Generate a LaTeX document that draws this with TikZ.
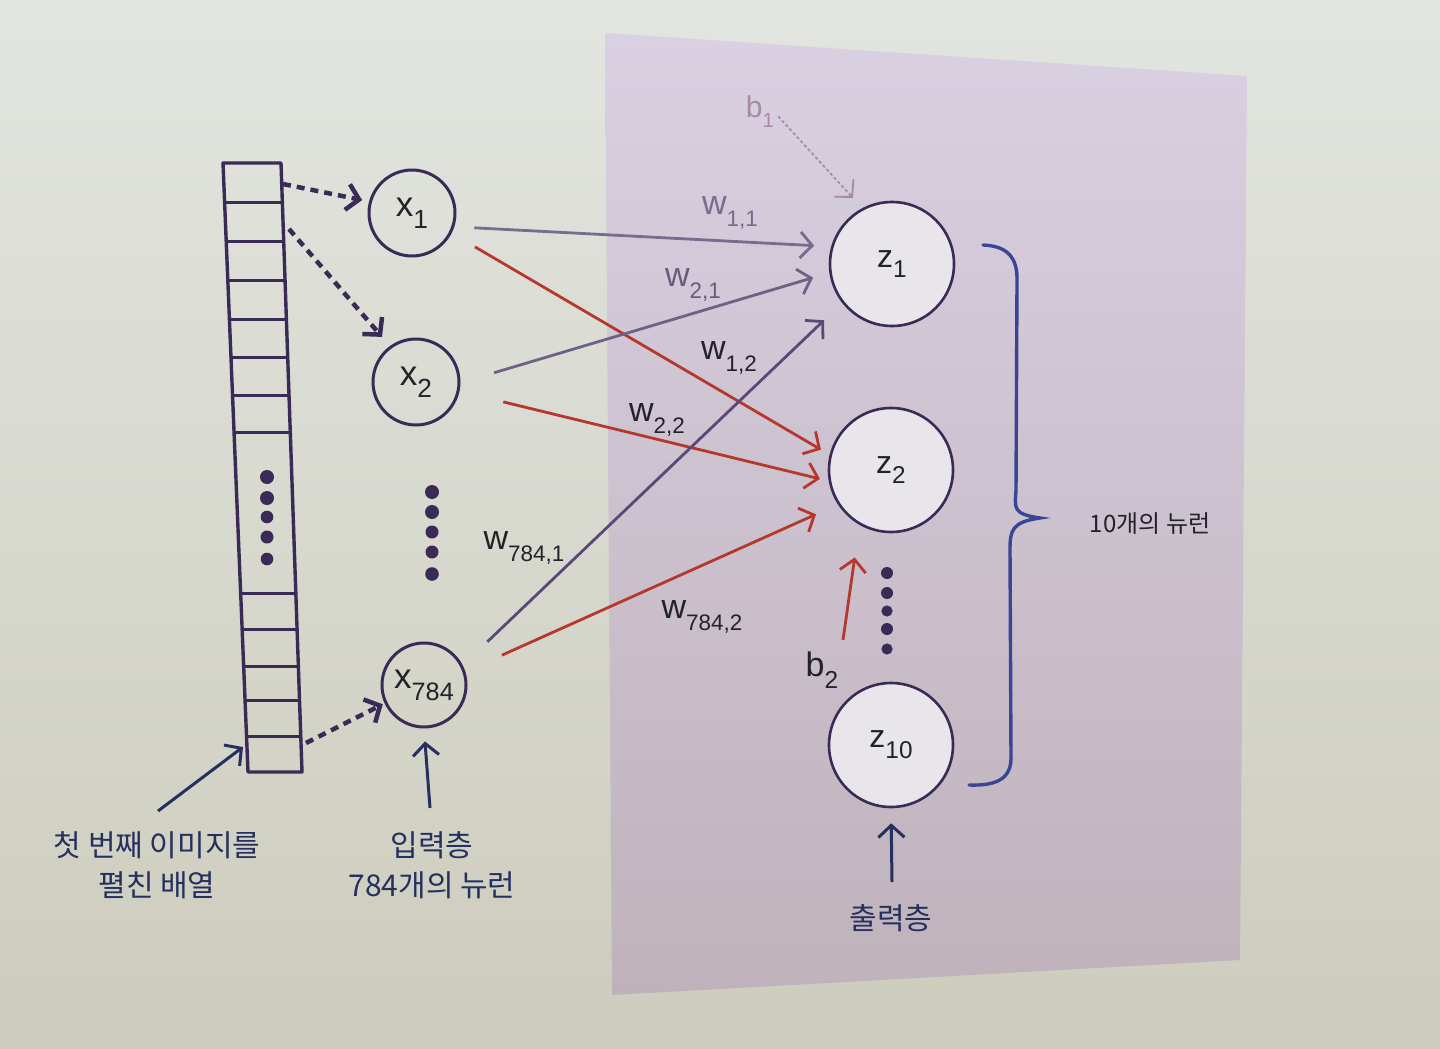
\documentclass[tikz,border=0pt]{standalone}
\usepackage{fontspec}
\setmainfont{Liberation Sans}
\newfontfamily\kr{Noto Sans CJK KR}
\usetikzlibrary{arrows.meta}
\definecolor{bgtop}{HTML}{E2E5E0}
\definecolor{bgbot}{HTML}{CDCCBD}
\definecolor{pptop}{HTML}{D9D0E1}
\definecolor{ppmid}{HTML}{D2C7DC}
\definecolor{ppbot}{HTML}{BFB2BB}
\definecolor{ink}{HTML}{3A2A56}
\definecolor{txt}{HTML}{22222A}
\definecolor{pline}{HTML}{5A4878}
\definecolor{pfade}{HTML}{7A6A8E}
\definecolor{rline}{HTML}{B5382C}
\definecolor{navy}{HTML}{26305E}
\definecolor{bbrace}{HTML}{3A4694}
\definecolor{zfill}{HTML}{E8E5EB}
\definecolor{bfade}{HTML}{A88AA2}
\newcommand\sbs[2][0.75]{\raisebox{-0.34em}{\scalebox{#1}{#2}}}
\tikzset{
  xn/.style={circle, draw=ink, line width=3pt, minimum size=86pt, inner sep=0pt, text=txt,
    font=\fontsize{35}{35}\selectfont},
  zn/.style={circle, draw=ink, line width=2.6pt, fill=zfill, minimum size=124pt, inner sep=0pt, text=txt,
    font=\fontsize{32}{32}\selectfont},
  tip/.style={-{Straight Barb[length=12pt,width=26pt]}},
  parr/.style={tip, line width=2.8pt, draw=pline},
  rarr/.style={tip, line width=2.8pt, draw=rline},
  darr/.style={tip, line width=4.5pt, draw=ink, dash pattern=on 8pt off 6pt},
  narr/.style={tip, line width=3pt, draw=navy},
  wlab/.style={text=txt, font=\fontsize{34}{34}\selectfont, inner sep=0pt},
  krlab/.style={text=navy, font=\kr\fontsize{30}{40}\selectfont, align=center, inner sep=0pt},
  dotc/.style={fill=ink, draw=none}
}
\begin{document}
\begin{tikzpicture}[x=1pt,y=-1pt]
\useasboundingbox (0,0) rectangle (1440,1049);
% background
\shade[top color=bgtop, bottom color=bgbot] (0,0) rectangle (1440,1049);
\shade[top color=pptop, middle color=ppmid, bottom color=ppbot] (605,33) -- (1247,76) -- (1240,960) -- (612,995) -- cycle;

% array (slanted column of cells)
\draw[ink, line width=3.4pt, line join=round] (223,163) -- (281,163) -- (302,772) -- (248,772) -- cycle;
\foreach \yy in {202,241,280,319,357,395,432,593,629,666,700,736}{
  \pgfmathsetmacro\xl{223+(\yy-163)*25/609}
  \pgfmathsetmacro\xr{281+(\yy-163)*21/609}
  \draw[ink, line width=3pt] (\xl,\yy) -- (\xr,\yy);
}
\foreach \yy/\rr in {477/7,498/7,517/6.3,537/6.5,559/6.3}{
  \fill[dotc] (267,\yy) circle[radius=\rr];
}
\coordinate (a1) at (283,184);
\coordinate (a2) at (289,229);
\coordinate (a3) at (306,743);
\coordinate (abl) at (243,747);

% input neurons
\node[xn] (x1) at (412,213) {x\sbs{1}};
\node[xn] (x2) at (416,382) {x\sbs{2}};
\node[xn, minimum size=84pt] (x784) at (424,685) {x\sbs[0.72]{784}};
\foreach \yy/\rr in {492/7,512/7,532/6.5,552/6.5,574/6.8}{
  \fill[dotc] (432,\yy) circle[radius=\rr];
}

% output neurons
\node[zn] (z1) at (892,264) {z\sbs[0.76]{1}};
\node[zn] (z2) at (891,470) {z\sbs[0.76]{2}};
\node[zn] (z10) at (891,745) {z\sbs[0.76]{10}};
\foreach \yy/\rr in {573/6,593/6,611/5.6,629/6,649/5.6}{
  \fill[dotc] (887,\yy) circle[radius=\rr];
}

% dashed arrows from the array
\draw[darr, shorten >=7pt] (a1) -- (x1.165);
\draw[darr, shorten >=12pt] (a2) -- (x2.126);
\draw[darr, shorten >=2pt] (a3) -- (x784.205);

% weights
\draw[parr, draw=pfade, shorten <=20pt, shorten >=17pt] (x1.-18) -- (z1.164);
\draw[rarr, shorten <=27pt, shorten >=10pt] (x1.-27) -- (z2.166);
\draw[parr, draw=pfade!85!ink, shorten <=35pt, shorten >=17pt] (x2.-1) -- (z1.-172);
\draw[rarr, shorten <=45pt, shorten >=9pt] (x2.-12) -- (z2.-170);
\draw[parr, shorten <=34pt, shorten >=25pt] (x784.27) -- (z1.218);
\draw[rarr, shorten <=40pt, shorten >=24pt] (x784.18) -- (z2.213);

\node[wlab, text=pfade] (w11) at (730,213) {w\sbs[0.66]{1,1}};
\node[wlab, text=pfade!80!txt] (w21) at (693,285) {w\sbs[0.66]{2,1}};
\node[wlab] (w12) at (729,358) {w\sbs[0.66]{1,2}};
\node[wlab] (w22) at (657,420) {w\sbs[0.66]{2,2}};
\node[wlab] (w7841) at (524,548) {w\sbs[0.66]{784,1}};
\node[wlab] (w7842) at (702,617) {w\sbs[0.66]{784,2}};

% biases
\node[wlab, text=bfade, font=\fontsize{30}{30}\selectfont] (b1) at (760,112) {b\sbs[0.68]{1}};
\draw[tip, draw=bfade, line width=1.8pt, dash pattern=on 3pt off 2.5pt, shorten <=6pt, shorten >=14pt] (b1.east) -- (z1.118);
\node[wlab, font=\fontsize{34}{34}\selectfont] (b2) at (822,670) {b\sbs[0.72]{2}};
\coordinate (b2tail) at (843,640);
\draw[rarr, shorten >=33pt] (b2tail) -- (z2.-120);

% brace
\draw[bbrace, line width=3.4pt, line cap=round]
  (983,245) .. controls (1006,246) and (1018,256) .. (1017,282)
  -- (1016,490) .. controls (1015,508) and (1012,514) .. (1040,518)
  .. controls (1012,522) and (1010,530) .. (1010,550)
  -- (1011,758) .. controls (1011,779) and (996,786) .. (969,785);
\node[krlab, font=\kr\fontsize{24}{28}\selectfont, text=txt] (ten) at (1150,524) {10개의 뉴런};

% bottom labels
\node[krlab] (lblA) at (157,865) {첫 번째 이미지를\\펼친 배열};
\node[krlab] (lblB) at (432,865) {입력층\\784개의 뉴런};
\node[krlab] (lblC) at (891,918) {출력층};
\coordinate (lblAtop) at (158,811);
\coordinate (lblBtop) at (430,808);
\coordinate (lblCtop) at (892,882);
\draw[narr] (lblAtop) -- (abl);
\draw[narr, shorten >=13pt] (lblBtop) -- (x784.south);
\draw[narr, shorten >=15pt] (lblCtop) -- (z10.south);
\end{tikzpicture}
\end{document}
